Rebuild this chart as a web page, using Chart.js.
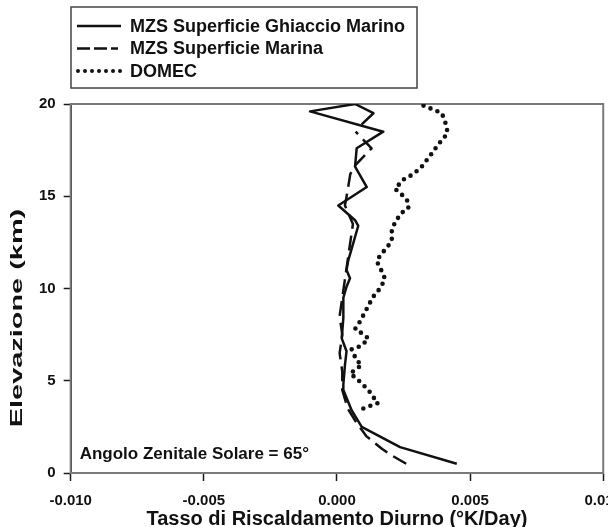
<!DOCTYPE html>
<html>
<head>
<meta charset="utf-8">
<script src="https://cdn.jsdelivr.net/npm/chart.js@4.4.0/dist/chart.umd.js"></script>
<style>
    html, body { margin: 0; padding: 0; background: #fff; overflow: hidden; }
    #wrap { width: 608px; height: 527px; overflow: hidden; }
</style>
</head>
<body>
<div id="wrap"><canvas id="c" width="633" height="531"></canvas></div>
<script>
// Profili del tasso di riscaldamento (x = °K/day, y = km)
const ghiaccioElev = [0.5, 1.4, 2.5, 3.4, 4.5, 4.8, 5.85, 6.6, 7.3, 8.4, 9.5, 10.1, 10.55, 11.0, 11.5, 12.45, 13.4, 13.7, 14.5, 15.5, 16.6, 17.6, 18.5, 19.6, 20.0, 19.5, 18.9];
const ghiaccioRate = [0.0045, 0.00237, 0.00093, 0.00055, 0.00024, 0.00024, 0.0003, 0.00036, 0.00018, 0.00024, 0.00024, 0.00036, 0.00049, 0.00036, 0.00042, 0.00061, 0.0008, 0.00068, 0.00005, 0.00112, 0.00068, 0.00074, 0.00174, -0.00101, 0.00068, 0.00137, 0.00093];

const marinaElev = [0.5, 1.0, 1.3, 2.0, 2.8, 3.5, 4.5, 5.5, 6.5, 7.5, 8.5, 9.5, 10.5, 11.5, 12.5, 13.5, 14.5, 15.3, 16.2, 16.7, 17.6, 18.5];
const marinaRate = [0.0026, 0.002, 0.0017, 0.0011, 0.0007, 0.0004, 0.0002, 0.0002, 0.0001, 0.0002, 0.0001, 0.0002, 0.0003, 0.0004, 0.0005, 0.0006, 0.0003, 0.0004, 0.0005, 0.0007, 0.0013, 0.0007];

const domecElev = [3.5, 3.8, 4.1, 4.5, 4.95, 5.4, 5.85, 6.1, 6.7, 6.9, 7.3, 7.65, 7.8, 8.2, 8.9, 9.4, 9.7, 10.0, 10.5, 10.8, 11.1, 11.5, 11.9, 12.2, 12.6, 13.1, 13.6, 14.1, 14.35, 14.7, 15.1, 15.4, 15.9, 16.2, 16.6, 17.2, 17.7, 18.05, 18.4, 18.8, 19.5, 19.7, 20.0];
const domecRate = [0.00099, 0.00155, 0.00137, 0.00118, 0.00086, 0.0005, 0.00093, 0.00074, 0.00055, 0.00093, 0.00118, 0.00086, 0.00068, 0.00086, 0.00112, 0.0013, 0.00143, 0.00162, 0.0018, 0.00174, 0.00162, 0.00149, 0.00168, 0.00187, 0.00206, 0.00206, 0.00218, 0.00243, 0.00268, 0.00268, 0.00243, 0.00218, 0.00249, 0.00287, 0.00318, 0.0035, 0.00375, 0.00394, 0.00415, 0.00412, 0.00394, 0.00362, 0.0031];

const seriesNames = ['MZS Superficie Ghiaccio Marino', 'MZS Superficie Marina', 'DOMEC'];
const xTicks = [-0.010, -0.005, 0.000, 0.005, 0.010];
const yTicks = [0, 5, 10, 15, 20];
const annotation = 'Angolo Zenitale Solare = 65°';

const FONT = '"Liberation Sans", Arial, sans-serif';
const INK = '#111';

const pts = (xs, ys) => xs.map((x, i) => ({ x, y: ys[i] }));

const styles = [
    { borderDash: [], borderWidth: 2.5, borderCapStyle: 'butt' },
    { borderDash: [15, 7], borderWidth: 2.5, borderCapStyle: 'butt' },
    { borderDash: [0, 7.5], borderWidth: 4.6, borderCapStyle: 'round' },
];

// cornice grigia del riquadro
const frame = {
    id: 'frame',
    beforeDatasetsDraw(chart) {
        const { ctx, chartArea: a } = chart;
        ctx.save();
        ctx.strokeStyle = '#7a7a7a';
        ctx.lineWidth = 2;
        ctx.strokeRect(a.left, a.top, a.right - a.left, a.bottom - a.top);
        ctx.restore();
    },
};

// legenda in riquadro, titolo asse y, annotazione
const extras = {
    id: 'extras',
    afterDraw(chart) {
        const { ctx, chartArea: a } = chart;
        ctx.save();
        ctx.strokeStyle = '#444';
        ctx.lineWidth = 1.5;
        ctx.strokeRect(71, 7, 346, 81);
        ctx.font = `bold 18px ${FONT}`;
        ctx.fillStyle = INK;
        ctx.textBaseline = 'middle';
        seriesNames.forEach((name, i) => {
            const y = 26 + i * 22.5;
            const s = styles[i];
            ctx.beginPath();
            ctx.strokeStyle = INK;
            ctx.lineWidth = i === 2 ? 4 : s.borderWidth;
            ctx.lineCap = s.borderCapStyle;
            ctx.setLineDash(i === 1 ? [13, 4] : i === 2 ? [0, 7] : s.borderDash);
            ctx.moveTo(i === 2 ? 78 : 77, y);
            ctx.lineTo(i === 1 ? 118 : 121, y);
            ctx.stroke();
            ctx.setLineDash([]);
            ctx.fillText(name, 130, y + 1);
        });

        ctx.font = `bold 17px ${FONT}`;
        ctx.textBaseline = 'alphabetic';
        ctx.fillText(annotation, a.left + 9, a.bottom - 14);

        ctx.translate(17, 318);
        ctx.rotate(-Math.PI / 2);
        ctx.scale(1.7, 1);
        ctx.textAlign = 'center';
        ctx.textBaseline = 'middle';
        ctx.fillText('Elevazione (km)', 0, 0);
        ctx.restore();
    },
};

new Chart(document.getElementById('c'), {
    type: 'scatter',
    data: {
        datasets: [
            { label: seriesNames[0], data: pts(ghiaccioRate, ghiaccioElev) },
            { label: seriesNames[1], data: pts(marinaRate, marinaElev) },
            { label: seriesNames[2], data: pts(domecRate, domecElev) },
        ].map((d, i) => ({
            ...d, ...styles[i],
            showLine: true, pointRadius: 0, pointHoverRadius: 0,
            borderColor: INK, borderJoinStyle: 'round', tension: 0,
        })),
    },
    plugins: [frame, extras],
    options: {
        responsive: false,
        animation: false,
        devicePixelRatio: 1,
        layout: { padding: { top: 104, left: 31, right: 0, bottom: 0 } },
        plugins: { legend: { display: false }, tooltip: { enabled: false } },
        scales: {
            x: {
                type: 'linear', min: -0.01, max: 0.01,
                afterBuildTicks: (s) => { s.ticks = xTicks.map((v) => ({ value: v })); },
                border: { display: true, color: '#1a1a1a', width: 2 },
                grid: { drawOnChartArea: false, drawTicks: true, tickLength: 8, tickColor: '#1a1a1a', tickWidth: 1.5 },
                ticks: { color: INK, font: { family: FONT, size: 15, weight: 'bold' }, padding: 11, maxRotation: 0,
                         callback: (v) => v.toFixed(3) },
                title: { display: true, text: 'Tasso di Riscaldamento Diurno (°K/Day)', color: INK,
                         font: { family: FONT, size: 20, weight: 'bold' }, padding: { top: -14, bottom: 0 } },
            },
            y: {
                type: 'linear', min: 0, max: 20,
                afterBuildTicks: (s) => { s.ticks = yTicks.map((v) => ({ value: v })); },
                border: { display: true, color: '#1a1a1a', width: 2 },
                grid: { drawOnChartArea: false, drawTicks: true, tickLength: 7, tickColor: '#1a1a1a', tickWidth: 1.5 },
                ticks: { color: INK, font: { family: FONT, size: 15, weight: 'bold' }, padding: 8 },
            },
        },
    },
});
</script>
</body>
</html>
